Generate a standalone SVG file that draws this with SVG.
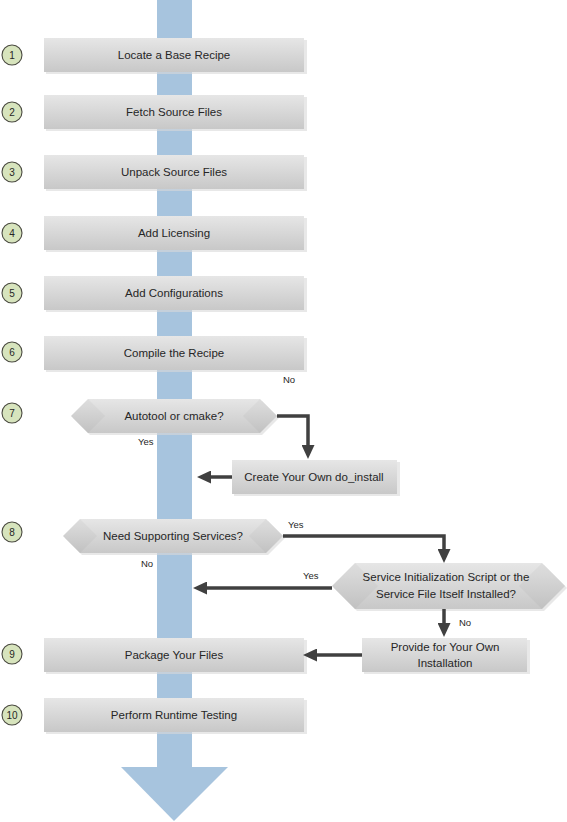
<svg xmlns="http://www.w3.org/2000/svg" width="567" height="822" viewBox="0 0 567 822">
<defs>
<linearGradient id="g" x1="0" y1="0" x2="0" y2="1">
<stop offset="0" stop-color="#e6e6e6"/>
<stop offset="1" stop-color="#c8c8c8"/>
</linearGradient>
<marker id="ah" markerUnits="userSpaceOnUse" markerWidth="15" markerHeight="13" refX="4" refY="6.5" orient="auto">
<path d="M0,0 L14,6.5 L0,13 z" fill="#404040"/>
</marker>
</defs>
<style>
.box{fill:url(#g);}
.sh{fill:#d9d9d9;opacity:0.6;}
.t{font-family:"Liberation Sans",Arial,sans-serif;font-size:11.5px;fill:#262626;text-anchor:middle;}
.lbl{font-family:"Liberation Sans",Arial,sans-serif;font-size:9.5px;fill:#262626;}
.num{font-family:"Liberation Sans",Arial,sans-serif;font-size:10px;fill:#262626;text-anchor:middle;}
.c{fill:#d7e4bd;stroke:#4a4a40;stroke-width:1.1;}
.cn{fill:none;stroke:#404040;stroke-width:3.5;marker-end:url(#ah);}
.end{fill:#000000;opacity:0.03;}
</style>
<rect width="567" height="822" fill="#ffffff"/>
<g id="flow">
<rect x="157" y="0" width="35" height="768" fill="#a7c4de"/>
<polygon points="121,767 228,767 174,821" fill="#a7c4de"/>
</g>
<g id="n1"><rect class="sh" x="46" y="40" width="261" height="34"/><rect class="box" x="44" y="38" width="260" height="34"/><text class="t" x="174" y="59">Locate a Base Recipe</text><circle class="c" cx="12" cy="55" r="10"/><text class="num" x="12" y="58.5">1</text></g>
<g id="n2"><rect class="sh" x="46" y="97" width="261" height="34"/><rect class="box" x="44" y="95" width="260" height="34"/><text class="t" x="174" y="116">Fetch Source Files</text><circle class="c" cx="12" cy="112" r="10"/><text class="num" x="12" y="115.5">2</text></g>
<g id="n3"><rect class="sh" x="46" y="157" width="261" height="34"/><rect class="box" x="44" y="155" width="260" height="34"/><text class="t" x="174" y="176">Unpack Source Files</text><circle class="c" cx="12" cy="172" r="10"/><text class="num" x="12" y="175.5">3</text></g>
<g id="n4"><rect class="sh" x="46" y="218" width="261" height="34"/><rect class="box" x="44" y="216" width="260" height="34"/><text class="t" x="174" y="237">Add Licensing</text><circle class="c" cx="12" cy="233" r="10"/><text class="num" x="12" y="236.5">4</text></g>
<g id="n5"><rect class="sh" x="46" y="278" width="261" height="34"/><rect class="box" x="44" y="276" width="260" height="34"/><text class="t" x="174" y="297">Add Configurations</text><circle class="c" cx="12" cy="293" r="10"/><text class="num" x="12" y="296.5">5</text></g>
<g id="n6"><rect class="sh" x="46" y="338" width="261" height="34"/><rect class="box" x="44" y="336" width="260" height="34"/><text class="t" x="174" y="357">Compile the Recipe</text><circle class="c" cx="12" cy="352" r="10"/><text class="num" x="12" y="355.5">6</text></g>
<g id="n7"><polygon class="sh" points="73,418 90,401 262,401 279,418 262,435 90,435"/><polygon class="box" points="71,416 88,399 260,399 277,416 260,433 88,433"/><polygon class="end" points="71,416 88,399 105,416 88,433"/><polygon class="end" points="243,416 260,399 277,416 260,433"/><text class="t" x="174" y="420">Autotool or cmake?</text><circle class="c" cx="12" cy="413" r="10"/><text class="num" x="12" y="416.5">7</text></g>
<g id="n7b"><rect class="sh" x="234" y="462" width="166" height="34"/><rect class="box" x="232" y="460" width="165" height="34"/><text class="t" x="314" y="481">Create Your Own do_install</text></g>
<g id="n8"><polygon class="sh" points="65,538 82,521 268,521 285,538 268,555 82,555"/><polygon class="box" points="63,536 80,519 266,519 283,536 266,553 80,553"/><polygon class="end" points="63,536 80,519 97,536 80,553"/><polygon class="end" points="249,536 266,519 283,536 266,553"/><text class="t" x="173" y="540">Need Supporting Services?</text><circle class="c" cx="12" cy="532" r="10"/><text class="num" x="12" y="535.5">8</text></g>
<g id="n8b"><polygon class="sh" points="334,588 357,565 544,565 567,588 544,611 357,611"/><polygon class="box" points="332,586 355,563 542,563 565,586 542,609 355,609"/><polygon class="end" points="332,586 355,563 378,586 355,609"/><polygon class="end" points="519,586 542,563 565,586 542,609"/><text class="t" x="446" y="581">Service Initialization Script or the</text><text class="t" x="446" y="598">Service File Itself Installed?</text></g>
<g id="n8c"><rect class="sh" x="364" y="640" width="166" height="34"/><rect class="box" x="362" y="638" width="165" height="34"/><text class="t" x="445" y="651">Provide for Your Own</text><text class="t" x="445" y="667">Installation</text></g>
<g id="n9"><rect class="sh" x="46" y="640" width="261" height="34"/><rect class="box" x="44" y="638" width="260" height="34"/><text class="t" x="174" y="659">Package Your Files</text><circle class="c" cx="12" cy="654" r="10"/><text class="num" x="12" y="657.5">9</text></g>
<g id="n10"><rect class="sh" x="46" y="700" width="261" height="34"/><rect class="box" x="44" y="698" width="260" height="34"/><text class="t" x="174" y="719">Perform Runtime Testing</text><circle class="c" cx="12" cy="715" r="10"/><text class="num" x="12" y="718.5">10</text></g>
<g id="connectors">
<path class="cn" d="M277,416 H308 V449"/>
<path class="cn" d="M232,477 H207"/>
<path class="cn" d="M283,536 H444 V553"/>
<path class="cn" d="M332,588 H203"/>
<path class="cn" d="M444,609 V627"/>
<path class="cn" d="M362,655 H313"/>
<text class="lbl" x="283" y="383">No</text>
<text class="lbl" x="138" y="445">Yes</text>
<text class="lbl" x="288" y="528">Yes</text>
<text class="lbl" x="141" y="567">No</text>
<text class="lbl" x="303" y="579">Yes</text>
<text class="lbl" x="459" y="626">No</text>
</g>
</svg>
